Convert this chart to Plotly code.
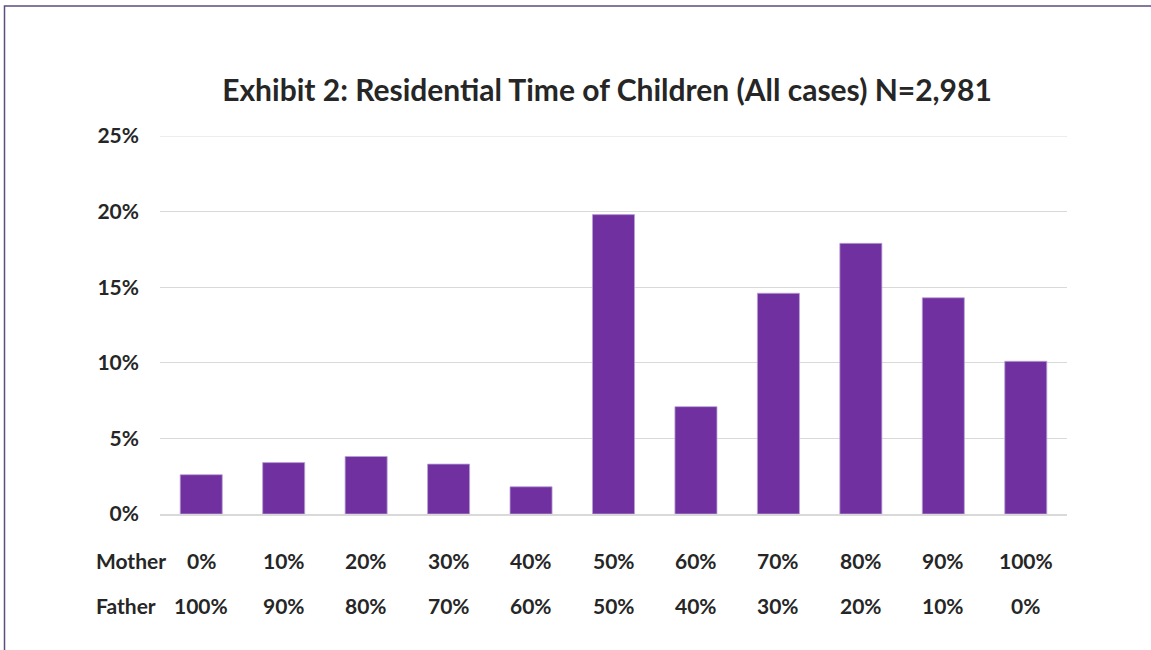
import plotly.graph_objects as go

# Share of residential time and percentage of cases
mother_share = ["0%", "10%", "20%", "30%", "40%", "50%", "60%", "70%", "80%", "90%", "100%"]
father_share = ["100%", "90%", "80%", "70%", "60%", "50%", "40%", "30%", "20%", "10%", "0%"]
pct_cases = [2.6, 3.4, 3.8, 3.3, 1.8, 19.8, 7.1, 14.6, 17.9, 14.3, 10.1]
y_ticks = [0, 5, 10, 15, 20, 25]
y_tick_labels = ["0%", "5%", "10%", "15%", "20%", "25%"]

W, H = 1151, 650
L, R, T, B = 160, 84, 136, 136
plot_w = W - L - R
plot_h = H - T - B

FONT = "Lato"
TEXT = "#262626"
PURPLE = "#7030A0"
GRID = "#d9d9d9"
LABEL_SIZE = 21


def px_x(px):
    return (px - L) / plot_w


def px_y(py):
    return (H - B - py) / plot_h


fig = go.Figure(
    go.Bar(
        x=mother_share,
        y=pct_cases,
        marker=dict(color=PURPLE, line=dict(color="#b9a2d3", width=0.8)),
        hoverinfo="skip",
    )
)

annotations = []
row_y = {"Mother": px_y(560), "Father": px_y(605)}
for name, labels in (("Mother", mother_share), ("Father", father_share)):
    annotations.append(dict(
        x=px_x(94), y=row_y[name], xref="paper", yref="paper",
        text=f"<b>{name}</b>", showarrow=False, xanchor="left", yanchor="middle",
        font=dict(family=FONT, size=LABEL_SIZE, color=TEXT),
    ))
    for cat, lab in zip(mother_share, labels):
        annotations.append(dict(
            x=cat, y=row_y[name], xref="x", yref="paper",
            text=f"<b>{lab}</b>", showarrow=False, xanchor="center", yanchor="middle",
            font=dict(family=FONT, size=LABEL_SIZE, color=TEXT),
        ))

fig.update_layout(
    width=W, height=H,
    margin=dict(l=L, r=R, t=T, b=B, autoexpand=False),
    paper_bgcolor="white", plot_bgcolor="white",
    showlegend=False,
    bargap=0.49,
    title=dict(
        text="<b>Exhibit 2: Residential Time of Children (All cases) N=2,981</b>",
        x=607 / W, xanchor="center",
        y=1 - 90 / H, yanchor="middle",
        font=dict(family=FONT, size=30, color=TEXT),
    ),
    xaxis=dict(
        type="category", categoryorder="array", categoryarray=mother_share,
        showticklabels=False, ticks="", showgrid=False,
        showline=True, linecolor=GRID, linewidth=1.5,
    ),
    yaxis=dict(
        range=[0, 25], tickvals=y_ticks, ticktext=[f"<b>{t}</b>" for t in y_tick_labels],
        showgrid=True, gridcolor=GRID, gridwidth=1.2, zeroline=False,
        showline=False, ticks="", ticklabelstandoff=20,
        tickfont=dict(family=FONT, size=LABEL_SIZE, color=TEXT),
    ),
    annotations=annotations,
    shapes=[
        # top gridline sitting on the upper edge of the range
        dict(type="line", xref="paper", yref="y", x0=0, x1=1, y0=25, y1=25,
             line=dict(color=GRID, width=1.2), layer="below"),
        # outer frame of the chart area
        dict(type="rect", xref="paper", yref="paper",
             x0=px_x(4.5), x1=px_x(1300), y0=px_y(800), y1=px_y(6),
             line=dict(color="#5e4c80", width=1.5), fillcolor="rgba(0,0,0,0)",
             layer="above"),
    ],
)

fig.write_html("out.html")
